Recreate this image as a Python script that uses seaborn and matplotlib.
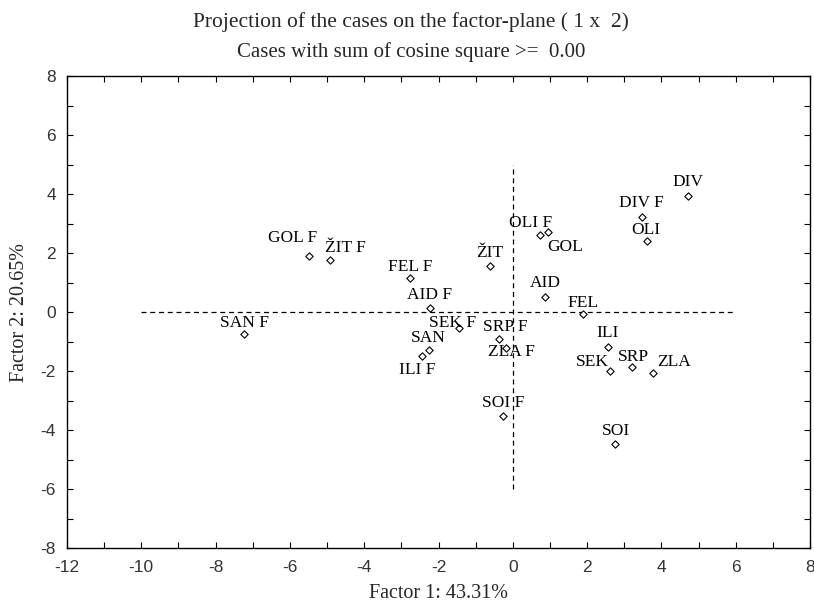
"""
Factor-plane projection of cases (factor 1 vs factor 2), STATISTICA-style.
"""
import matplotlib
matplotlib.use("Agg")
import matplotlib.pyplot as plt
from matplotlib.ticker import MultipleLocator
import pandas as pd
import seaborn as sns

# case labels and coordinates
cases = ["DIV", "DIV F", "OLI", "OLI F", "GOL", "GOL F", "ŽIT", "ŽIT F",
         "FEL", "FEL F", "AID", "AID F", "SEK", "SEK F", "SAN", "SAN F",
         "ILI", "ILI F", "SRP", "SRP F", "ZLA", "ZLA F", "SOI", "SOI F"]
factor1 = [4.72, 3.47, 3.62, 0.73, 0.96, -5.49, -0.61, -4.91,
           1.90, -2.77, 0.88, -2.23, 2.62, -1.44, -2.25, -7.23,
           2.55, -2.44, 3.20, -0.37, 3.77, -0.18, 2.75, -0.26]
factor2 = [3.94, 3.23, 2.42, 2.61, 2.70, 1.91, 1.56, 1.76,
           -0.07, 1.14, 0.52, 0.12, -1.99, -0.53, -1.29, -0.76,
           -1.18, -1.48, -1.88, -0.93, -2.06, -1.23, -4.47, -3.53]

# where each label sits relative to its point (pixels, x right / y up)
label_offsets = {
    "DIV": (0, 14), "DIV F": (0, 14), "OLI": (-1, 11), "OLI F": (-9, 12),
    "GOL": (17, -15), "GOL F": (-16, 18), "ŽIT": (0, 13), "ŽIT F": (15, 12),
    "FEL": (0, 11), "FEL F": (0, 11), "AID": (0, 14), "AID F": (0, 13),
    "SEK": (-18, 9), "SEK F": (-7, 5), "SAN": (-1, 12), "SAN F": (0, 11),
    "ILI": (0, 14), "ILI F": (-5, -14), "SRP": (2, 10), "SRP F": (6, 12),
    "ZLA": (21, 11), "ZLA F": (5, -4), "SOI": (1, 13), "SOI F": (0, 13),
}

df = pd.DataFrame({"case": cases, "f1": factor1, "f2": factor2})

sns.set_style("ticks")
plt.rcParams["font.family"] = ["Liberation Serif", "DejaVu Serif"]
plt.rcParams["axes.unicode_minus"] = False  # plain hyphen like the original

fig = plt.figure(figsize=(8.14, 6.05), dpi=100)
ax = fig.add_axes([67 / 814, 1 - 548 / 605, 743 / 814, 472 / 605])

# reference cross through the origin
ax.plot([-10, 6], [0, 0], color="black", lw=0.9, ls=(0, (4, 3)))
ax.plot([0, 0], [-6, 5], color="black", lw=0.9, ls=(0, (4, 3)))

sns.scatterplot(data=df, x="f1", y="f2", marker="D", s=14,
                facecolor="white", edgecolor="black", linewidth=0.8,
                ax=ax, zorder=3)

for name, x, y in zip(cases, factor1, factor2):
    dx, dy = label_offsets[name]
    ax.annotate(name, (x, y), xytext=(dx, dy), textcoords="offset pixels",
                ha="center", va="center", fontsize=12.5, color="black")

ax.set_xlim(-12, 8)
ax.set_ylim(-8, 8)
ax.xaxis.set_major_locator(MultipleLocator(2))
ax.xaxis.set_minor_locator(MultipleLocator(1))
ax.yaxis.set_major_locator(MultipleLocator(2))
ax.yaxis.set_minor_locator(MultipleLocator(1))
ax.tick_params(which="both", direction="in", top=True, right=True,
               length=4, width=0.8, color="black")
ax.tick_params(axis="x", pad=9)
ax.tick_params(axis="y", pad=8)
for lab in ax.get_xticklabels() + ax.get_yticklabels():
    lab.set_fontfamily("Liberation Sans")
    lab.set_fontsize(12.5)
    lab.set_color("#333333")
for sp in ax.spines.values():
    sp.set_linewidth(1.0)
    sp.set_color("black")

ax.set_xlabel("Factor 1: 43.31%", fontsize=14.5, labelpad=6)
ax.set_ylabel("Factor 2: 20.65%", fontsize=14.5, labelpad=8)

fig.text(0.505, 1 - 22 / 605, "Projection of the cases on the factor-plane ( 1 x  2)",
         ha="center", va="center", fontsize=15.5)
fig.text(0.505, 1 - 52 / 605, "Cases with sum of cosine square >=  0.00",
         ha="center", va="center", fontsize=15)

fig.savefig("out.png", dpi=100)
